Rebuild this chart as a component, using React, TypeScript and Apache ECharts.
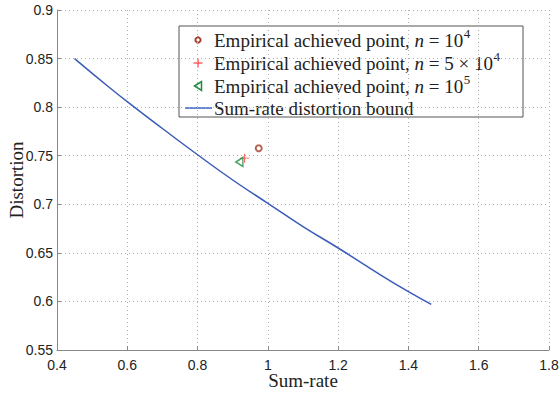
import React, { useEffect, useRef } from "react";
import * as echarts from "echarts";

const boundX = [0.45, 0.55, 0.62, 0.7, 0.8, 0.9, 1.0, 1.1, 1.2, 1.3, 1.4, 1.465];
const boundY = [0.85, 0.82, 0.8, 0.778, 0.751, 0.725, 0.701, 0.677, 0.655, 0.632, 0.61, 0.597];
const pointN1 = [[0.974, 0.7577]];
const pointN2 = [[0.934, 0.7475]];
const pointN3 = [[0.919, 0.7436]];
const legendPrefix = "Empirical achieved point, ";
const legendVar = "n";
const legendRhs = [" = 10", " = 5 × 10", " = 10"];
const legendSup = ["4", "4", "5"];
const legendBound = "Sum-rate distortion bound";

const SERIF = "serif";
const SANS = "Liberation Sans";
const BROWN = "#a5402c";
const RED = "#ff1a1a";
const GREEN = "#1a8a3a";
const BLUE = "#3a5cb8";

function measure(text: string, font: string): number {
  const c = document.createElement("canvas").getContext("2d")!;
  c.font = font;
  return c.measureText(text).width;
}

export default function App() {
  const ref = useRef<HTMLDivElement>(null);
  useEffect(() => {
    document.body.style.margin = "0";
    const chart = echarts.init(ref.current!, undefined, { renderer: "svg" });
    const plus = "path://M4.5,0 L5.5,0 L5.5,4.5 L10,4.5 L10,5.5 L5.5,5.5 L5.5,10 L4.5,10 L4.5,5.5 L0,5.5 L0,4.5 L4.5,4.5 Z";
    const tri = "path://M0,5 L8,0 L8,10 Z";

    const fs = 19;
    const mainFont = `normal normal ${fs}px ${SERIF}`;
    const italFont = `italic normal ${fs}px ${SERIF}`;
    const supFont = `normal normal 13px ${SERIF}`;
    const boxX = 179, boxY = 26, boxW = 344, boxH = 91;
    const textX = 214, markX = 198;
    const rowY = [40, 63, 86, 108];
    const txt = (x: number, y: number, s: string, font: string) => ({
      type: "text",
      x,
      y,
      silent: true,
      style: {
        text: s,
        font,
        fill: "#222",
        verticalAlign: "middle",
        align: "left",
      },
    });
    const children: any[] = [
      { type: "rect", shape: { x: boxX, y: boxY, width: boxW, height: boxH }, style: { fill: "#fff", stroke: "#555", lineWidth: 1 }, silent: true },
    ];
    for (let k = 0; k < 3; k++) {
      const y = rowY[k];
      const w1 = measure(legendPrefix, mainFont);
      const w2 = measure(legendVar, italFont);
      const w3 = measure(legendRhs[k], mainFont);
      children.push(txt(textX, y, legendPrefix, mainFont));
      children.push(txt(textX + w1, y, legendVar, italFont));
      children.push(txt(textX + w1 + w2, y, legendRhs[k], mainFont));
      children.push(txt(textX + w1 + w2 + w3 + 0.5, y - 7, legendSup[k], supFont));
    }
    children.push(txt(textX, rowY[3], legendBound, mainFont));
    children.push({ type: "circle", shape: { cx: markX, cy: rowY[0], r: 2.6 }, style: { fill: "#fff", stroke: BROWN, lineWidth: 2 }, silent: true });
    children.push({ type: "line", shape: { x1: markX - 4.5, y1: rowY[1], x2: markX + 4.5, y2: rowY[1] }, style: { stroke: RED, lineWidth: 1 }, silent: true });
    children.push({ type: "line", shape: { x1: markX, y1: rowY[1] - 4.5, x2: markX, y2: rowY[1] + 4.5 }, style: { stroke: RED, lineWidth: 1 }, silent: true });
    children.push({ type: "polygon", shape: { points: [[markX - 3.5, rowY[2]], [markX + 3.5, rowY[2] - 4.5], [markX + 3.5, rowY[2] + 4.5]] }, style: { fill: "none", stroke: GREEN, lineWidth: 1.5 }, silent: true });
    children.push({ type: "line", shape: { x1: 185, y1: rowY[3], x2: 212, y2: rowY[3] }, style: { stroke: BLUE, lineWidth: 1.5 }, silent: true });

    chart.setOption({
      animation: false,
      backgroundColor: "#fff",
      textStyle: { fontFamily: SERIF },
      grid: { left: 57, right: 11, top: 10, bottom: 46, containLabel: false, outerBoundsMode: "none" },
      xAxis: {
        type: "value",
        min: 0.4,
        max: 1.8,
        interval: 0.2,
        name: "Sum-rate",
        nameLocation: "middle",
        nameGap: 21,
        nameMoveOverlap: false,
        nameTextStyle: { fontFamily: SERIF, fontSize: 19, color: "#222" },
        axisLine: { show: true, lineStyle: { color: "#888", width: 1 } },
        axisTick: { show: true, inside: true, length: 4, lineStyle: { color: "#888" } },
        axisLabel: { fontFamily: SANS, fontSize: 14, color: "#222", margin: 8, formatter: (v: number) => String(+v.toFixed(2)) },
        splitLine: { show: true, lineStyle: { color: "#b0b0b0", type: [1, 3] } },
      },
      yAxis: {
        type: "value",
        min: 0.55,
        max: 0.9,
        interval: 0.05,
        name: "Distortion",
        nameLocation: "middle",
        nameGap: 31,
        nameMoveOverlap: false,
        nameRotate: 90,
        nameTextStyle: { fontFamily: SERIF, fontSize: 19, color: "#222" },
        axisLine: { show: true, lineStyle: { color: "#888", width: 1 } },
        axisTick: { show: true, inside: true, length: 4, lineStyle: { color: "#888" } },
        axisLabel: { fontFamily: SANS, fontSize: 14, color: "#222", margin: 4, formatter: (v: number) => String(+v.toFixed(2)) },
        splitLine: { show: true, lineStyle: { color: "#b0b0b0", type: [1, 3] } },
      },
      graphic: { elements: children },
      series: [
        {
          name: "Empirical achieved point, n = 10^4",
          type: "scatter",
          data: pointN1,
          symbol: "emptyCircle",
          symbolSize: 6,
          itemStyle: { color: BROWN, borderColor: BROWN, borderWidth: 2 },
        },
        {
          name: "Empirical achieved point, n = 5 × 10^4",
          type: "scatter",
          data: pointN2,
          symbol: plus,
          symbolSize: 9,
          itemStyle: { color: RED },
        },
        {
          name: "Empirical achieved point, n = 10^5",
          type: "scatter",
          data: pointN3,
          symbol: tri,
          symbolSize: [7, 9],
          itemStyle: { color: "rgba(255,255,255,0)", borderColor: GREEN, borderWidth: 1.5 },
        },
        {
          name: legendBound,
          type: "line",
          data: boundX.map((x, i) => [x, boundY[i]]),
          symbol: "none",
          smooth: true,
          lineStyle: { color: BLUE, width: 1.5 },
          itemStyle: { color: BLUE },
        },
      ],
    });
    return () => chart.dispose();
  }, []);
  return <div ref={ref} style={{ width: 560, height: 396 }} />;
}
